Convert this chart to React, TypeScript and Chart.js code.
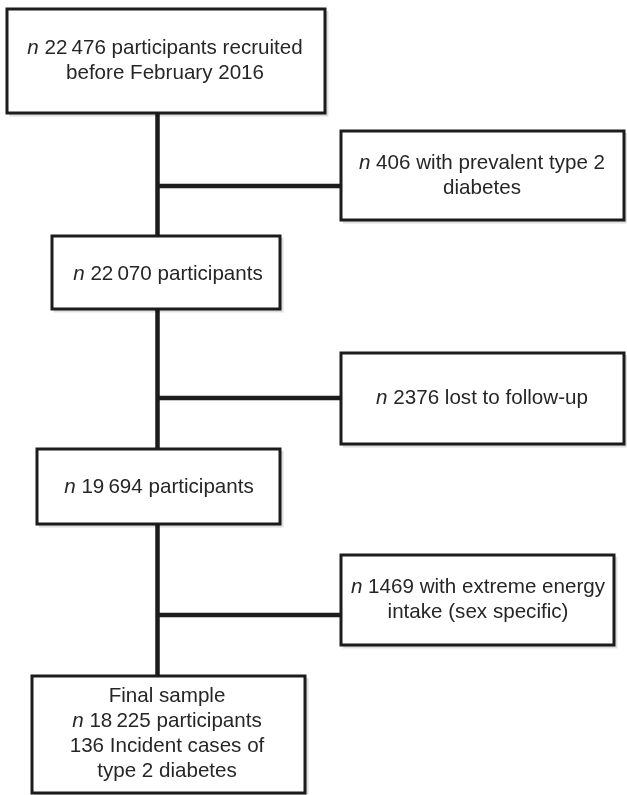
import React, { useEffect, useRef } from "react";
import { Chart, registerables } from "chart.js";

Chart.register(...registerables);

// ---- data (flow counts) ----
const stageLabels = ["recruited", "excluded1", "after1", "excluded2", "after2", "excluded3", "final"];
const stageCounts = [22476, 406, 22070, 2376, 19694, 1469, 18225];
const incidentCases = [136];

// ---- layout (pixel space of the 627x795 page) ----
const W = 627;
const H = 795;
// [left, top, right, bottom, textCenterX, textCenterY]
const boxLayout: number[][] = [
  [7, 9, 325, 113, 165, 61],
  [341, 131, 624, 220, 482, 176],
  [52, 236, 280, 309, 168, 274],
  [341, 353, 624, 444, 482, 398],
  [37, 449, 280, 524, 159, 487],
  [341, 555, 614, 645, 478, 600],
  [32, 676, 305, 793, 167, 734],
];
const trunkX = 157.5;
const connectorLayout: number[][] = [
  [trunkX, 113, trunkX, 236],
  [trunkX, 309, trunkX, 449],
  [trunkX, 524, trunkX, 676],
  [trunkX, 186, 341, 186],
  [trunkX, 398, 341, 398],
  [trunkX, 615, 341, 615],
];

const fmt = (v: number) => {
  const s = String(v);
  return v >= 10000 ? s.slice(0, s.length - 3) + "\u2009" + s.slice(-3) : s;
};

type Seg = { t: string; i?: boolean };
const boxText: Seg[][][] = [
  [[{ t: "n", i: true }, { t: " " + fmt(stageCounts[0]) + " participants recruited" }], [{ t: "before February 2016" }]],
  [[{ t: "n", i: true }, { t: " " + fmt(stageCounts[1]) + " with prevalent type 2" }], [{ t: "diabetes" }]],
  [[{ t: "n", i: true }, { t: " " + fmt(stageCounts[2]) + " participants" }]],
  [[{ t: "n", i: true }, { t: " " + fmt(stageCounts[3]) + " lost to follow-up" }]],
  [[{ t: "n", i: true }, { t: " " + fmt(stageCounts[4]) + " participants" }]],
  [[{ t: "n", i: true }, { t: " " + fmt(stageCounts[5]) + " with extreme energy" }], [{ t: "intake (sex specific)" }]],
  [
    [{ t: "Final sample" }],
    [{ t: "n", i: true }, { t: " " + fmt(stageCounts[6]) + " participants" }],
    [{ t: incidentCases[0] + " Incident cases of" }],
    [{ t: "type 2 diabetes" }],
  ],
];

const FONT = '"Liberation Sans", Arial, sans-serif';
const FONT_SIZE = 20.6;
const LINE_H = 24.8;
const INK = "#1c1c1c";

const textPlugin = {
  id: "flowText",
  afterDatasetsDraw(chart: any) {
    const ctx = chart.ctx as CanvasRenderingContext2D;
    const xs = chart.scales.x;
    const ys = chart.scales.y;
    ctx.save();
    ctx.fillStyle = "#262626";
    ctx.textBaseline = "middle";
    ctx.textAlign = "left";
    boxText.forEach((lines, bi) => {
      const cx = xs.getPixelForValue(boxLayout[bi][4]);
      const cy = ys.getPixelForValue(boxLayout[bi][5]);
      const n = lines.length;
      lines.forEach((segs, li) => {
        const y = cy + (li - (n - 1) / 2) * LINE_H;
        let total = 0;
        const widths = segs.map((s) => {
          ctx.font = (s.i ? "italic " : "") + FONT_SIZE + "px " + FONT;
          const w = ctx.measureText(s.t).width;
          total += w;
          return w;
        });
        let x = cx - total / 2;
        segs.forEach((s, si) => {
          ctx.font = (s.i ? "italic " : "") + FONT_SIZE + "px " + FONT;
          ctx.fillText(s.t, x, y);
          x += widths[si];
        });
      });
    });
    ctx.restore();
  },
};

export default function App() {
  const ref = useRef<HTMLCanvasElement | null>(null);
  useEffect(() => {
    if (!ref.current) return;
    const datasets: any[] = [];
    // shadows
    boxLayout.forEach((b, i) => {
      const o = 2;
      datasets.push({
        label: "shadow-" + stageLabels[i],
        data: [
          { x: b[0] + o, y: b[3] + o },
          { x: b[2] + o, y: b[3] + o },
          { x: b[2] + o, y: b[1] + o },
        ],
        borderColor: "rgba(0,0,0,0.13)",
        borderWidth: 3,
        showLine: true,
        pointRadius: 0,
        fill: false,
        clip: false,
        tension: 0,
      });
    });
    connectorLayout.forEach((c, i) => {
      datasets.push({
        label: "connector-" + i,
        data: [
          { x: c[0], y: c[1] },
          { x: c[2], y: c[3] },
        ],
        borderColor: INK,
        borderWidth: 4.5,
        showLine: true,
        pointRadius: 0,
        fill: false,
        clip: false,
        borderCapStyle: "butt",
      });
    });
    boxLayout.forEach((b, i) => {
      datasets.push({
        label: "box-" + stageLabels[i],
        data: [
          { x: b[0], y: b[1] },
          { x: b[2], y: b[1] },
          { x: b[2], y: b[3] },
          { x: b[0], y: b[3] },
          { x: b[0], y: b[1] },
        ],
        borderColor: INK,
        borderWidth: 3,
        borderJoinStyle: "miter",
        borderCapStyle: "square",
        showLine: true,
        pointRadius: 0,
        fill: false,
        clip: false,
        tension: 0,
      });
    });
    const chart = new Chart(ref.current, {
      type: "scatter",
      data: { datasets },
      options: {
        animation: false,
        responsive: false,
        maintainAspectRatio: false,
        layout: { padding: 0 },
        plugins: { legend: { display: false }, tooltip: { enabled: false } },
        events: [],
        scales: {
          x: { type: "linear", min: 0, max: W, display: false },
          y: { type: "linear", min: 0, max: H, reverse: true, display: false },
        },
      },
      plugins: [textPlugin],
    } as any);
    return () => chart.destroy();
  }, []);
  return (
    <div style={{ position: "fixed", left: 0, top: 0, width: W, height: H, background: "#fff" }}>
      <canvas ref={ref} width={W} height={H} style={{ display: "block", width: W, height: H }} />
    </div>
  );
}
